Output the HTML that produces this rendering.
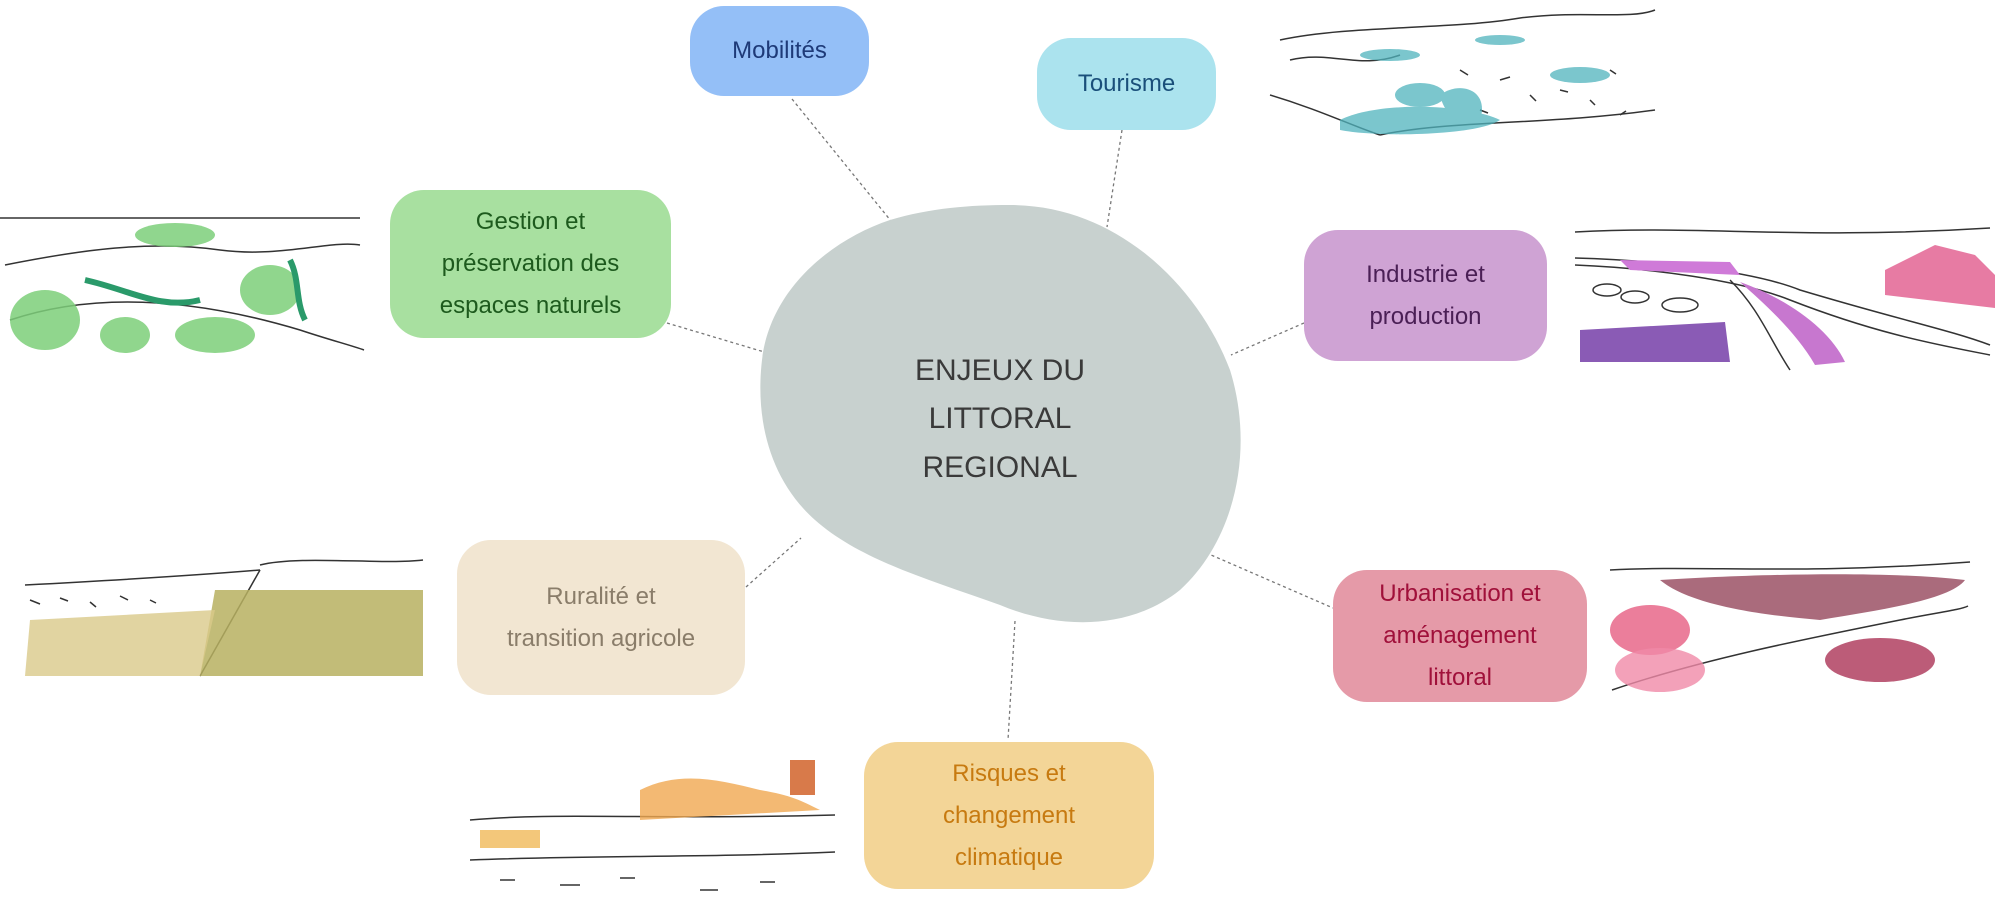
<!DOCTYPE html>
<html><head><meta charset="utf-8"><style>
html,body{margin:0;padding:0;background:#fff;}
body{width:2000px;height:911px;position:relative;overflow:hidden;font-family:"Liberation Sans",sans-serif;}
.b{position:absolute;display:flex;align-items:center;justify-content:center;text-align:center;font-size:24px;line-height:42px;border-radius:34px;}
</style></head><body>
<svg width="2000" height="911" style="position:absolute;left:0;top:0">
<g stroke="#777" stroke-width="1.3" stroke-dasharray="3,3" fill="none">
<line x1="792" y1="99" x2="904" y2="237"/>
<line x1="1122" y1="130" x2="1107" y2="227"/>
<line x1="667" y1="323" x2="781" y2="357"/>
<line x1="1304" y1="323" x2="1231" y2="355"/>
<line x1="746" y1="587" x2="801" y2="538"/>
<line x1="1195" y1="548" x2="1333" y2="608"/>
<line x1="1015" y1="621" x2="1008" y2="740"/>
</g>
<path d="M1010 205 C1120 205 1200 290 1230 370 C1255 450 1235 540 1180 590 C1130 630 1060 630 1000 605 C930 580 860 560 815 520 C770 480 755 420 762 360 C770 290 830 240 890 220 C930 208 970 205 1010 205 Z" fill="#c8d1cf"/>
<text x="1000" y="380" font-size="30" fill="#3a3a3a" text-anchor="middle" font-family="Liberation Sans">ENJEUX DU</text>
<text x="1000" y="428" font-size="30" fill="#3a3a3a" text-anchor="middle" font-family="Liberation Sans">LITTORAL</text>
<text x="1000" y="477" font-size="30" fill="#3a3a3a" text-anchor="middle" font-family="Liberation Sans">REGIONAL</text>
<!-- tourism image -->
<g fill="none" stroke="#333" stroke-width="1.5">
<path d="M1280 40 C1350 25 1450 30 1520 18 C1580 10 1630 20 1655 10"/>
<path d="M1270 95 C1320 110 1350 125 1380 135 M1380 135 C1450 120 1550 125 1655 110"/>
<path d="M1290 60 C1330 50 1360 70 1400 55"/>
<path d="M1460 70 l8 5 M1500 80 l10 -3 M1530 95 l6 6 M1560 90 l8 2 M1590 100 l5 5 M1610 70 l6 4 M1480 110 l8 3 M1620 115 l6 -4"/>
</g>
<g fill="#4fb3bd" opacity="0.75">
<ellipse cx="1390" cy="55" rx="30" ry="6"/><ellipse cx="1500" cy="40" rx="25" ry="5"/>
<ellipse cx="1580" cy="75" rx="30" ry="8"/><ellipse cx="1420" cy="95" rx="25" ry="12"/>
<path d="M1340 120 C1380 100 1470 105 1500 120 C1480 135 1380 138 1340 130Z"/>
<path d="M1440 95 C1460 80 1490 90 1480 120 C1470 130 1445 120 1440 95Z"/>
</g>
<!-- gestion image -->
<g fill="none" stroke="#333" stroke-width="1.5">
<path d="M0 218 L360 218"/><path d="M5 265 C80 250 150 240 220 250 C280 258 330 240 360 245"/>
<path d="M10 320 C100 290 200 300 300 330 C330 340 350 345 364 350"/>
</g>
<g fill="#7dcf7a" opacity="0.85">
<ellipse cx="175" cy="235" rx="40" ry="12"/><ellipse cx="45" cy="320" rx="35" ry="30"/>
<ellipse cx="125" cy="335" rx="25" ry="18"/><ellipse cx="215" cy="335" rx="40" ry="18"/>
<ellipse cx="270" cy="290" rx="30" ry="25"/>
</g>
<path d="M85 280 C130 290 160 310 200 300 M290 260 C300 280 295 300 305 320" stroke="#2a9a6a" stroke-width="6" fill="none"/>
<!-- industrie image -->
<g fill="none" stroke="#333" stroke-width="1.5">
<path d="M1575 232 C1700 225 1800 240 1990 228"/>
<path d="M1575 258 C1650 260 1750 270 1800 290 C1900 320 1950 330 1990 345"/>
<path d="M1575 265 C1650 268 1740 280 1790 300 C1880 335 1940 345 1990 355"/>
<path d="M1730 280 C1760 310 1770 340 1790 370"/>
<ellipse cx="1607" cy="290" rx="14" ry="6"/><ellipse cx="1635" cy="297" rx="14" ry="6"/><ellipse cx="1680" cy="305" rx="18" ry="7"/>
</g>
<path d="M1580 330 L1725 322 L1730 362 L1580 362 Z" fill="#8a5bb5"/>
<path d="M1740 282 C1790 300 1830 330 1845 362 L1815 365 C1795 330 1760 300 1740 282Z" fill="#c777cf"/>
<path d="M1620 260 L1730 262 L1740 275 L1630 270Z" fill="#cf7ad8"/>
<path d="M1885 270 L1935 245 L1975 255 L1995 275 L1995 308 L1885 295Z" fill="#e77ba3"/>
<!-- ruralite image -->
<g fill="none" stroke="#333" stroke-width="1.5">
<path d="M260 565 C300 555 380 565 423 560"/>
<path d="M25 585 C120 580 200 575 260 570"/>
<path d="M260 570 L200 676"/>
<path d="M30 600 l10 4 M60 598 l8 3 M90 602 l6 5 M120 596 l8 4 M150 600 l6 3"/>
</g>
<path d="M215 590 L423 590 L423 676 L200 676 Z" fill="#b7b060" opacity="0.85"/>
<path d="M30 620 L215 610 L200 676 L25 676 Z" fill="#d9c98a" opacity="0.8"/>
<!-- urbanisation image -->
<g fill="none" stroke="#333" stroke-width="1.5">
<path d="M1610 570 C1700 565 1800 575 1970 562"/>
<path d="M1612 690 C1700 660 1800 640 1900 620 C1940 612 1960 610 1968 606"/>
</g>
<path d="M1660 580 C1740 575 1880 570 1965 580 C1950 600 1880 610 1820 620 C1760 615 1690 605 1660 580Z" fill="#a15b6e" opacity="0.9"/>
<ellipse cx="1650" cy="630" rx="40" ry="25" fill="#e8678a" opacity="0.85"/>
<ellipse cx="1660" cy="670" rx="45" ry="22" fill="#f08aa8" opacity="0.8"/>
<ellipse cx="1880" cy="660" rx="55" ry="22" fill="#b04060" opacity="0.85"/>
<!-- risques image -->
<g fill="none" stroke="#333" stroke-width="1.5">
<path d="M470 820 C560 812 640 820 835 815"/>
<path d="M470 860 C600 855 700 858 835 852"/>
<path d="M500 880 l15 0 M560 885 l20 0 M620 878 l15 0 M700 890 l18 0 M760 882 l15 0"/>
</g>
<path d="M640 790 C680 770 720 780 760 790 C790 795 800 800 820 810 L640 820Z" fill="#f0a850" opacity="0.8"/>
<rect x="480" y="830" width="60" height="18" fill="#f3c77a"/>
<rect x="790" y="760" width="25" height="35" fill="#d87a4a"/>
</svg>
<div class="b" style="left:690px;top:6px;width:179px;height:90px;background:#94bff7;color:#1e3a78;">Mobilités</div>
<div class="b" style="left:1037px;top:38px;width:179px;height:92px;background:#abe3ee;color:#1a4f7a;">Tourisme</div>
<div class="b" style="left:390px;top:190px;width:281px;height:148px;background:#a8e0a0;color:#1d5a1d;">Gestion et<br>préservation des<br>espaces naturels</div>
<div class="b" style="left:1304px;top:230px;width:243px;height:131px;background:#cfa3d4;color:#4a1f55;">Industrie et<br>production</div>
<div class="b" style="left:457px;top:540px;width:288px;height:155px;background:#f2e6d2;color:#8a7d6a;">Ruralité et<br>transition agricole</div>
<div class="b" style="left:1333px;top:570px;width:254px;height:132px;background:#e59aa8;color:#a0103a;">Urbanisation et<br>aménagement<br>littoral</div>
<div class="b" style="left:864px;top:742px;width:290px;height:147px;background:#f3d597;color:#c77a10;">Risques et<br>changement<br>climatique</div>
</body></html>
